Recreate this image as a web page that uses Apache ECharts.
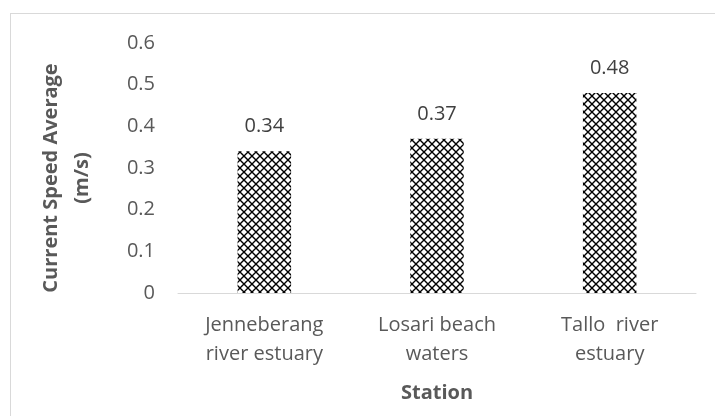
<!DOCTYPE html>
<html>
<head>
<meta charset="utf-8">
<script src="https://cdn.jsdelivr.net/npm/echarts@6/dist/echarts.min.js"></script>
<style>
html,body{margin:0;padding:0;background:#fff;}
#frame{position:absolute;left:10px;top:13px;width:710px;height:410px;border:1px solid #d9d9d9;box-sizing:border-box;}
#chart{position:absolute;left:0;top:0;width:715px;height:416px;}
</style>
</head>
<body>
<div id="frame"></div>
<div id="chart"></div>
<script>
const categories = ['Jenneberang\nriver estuary', 'Losari beach\nwaters', 'Tallo  river\nestuary'];
const speeds = [0.34, 0.37, 0.48];
const yTicks = ['0', '0.1', '0.2', '0.3', '0.4', '0.5', '0.6'];

function makePattern() {
  const c = document.createElement('canvas');
  c.width = 8; c.height = 8;
  const g = c.getContext('2d');
  g.fillStyle = '#fff';
  g.fillRect(0, 0, 8, 8);
  g.strokeStyle = '#000';
  g.lineWidth = 1.4;
  g.beginPath();
  g.moveTo(-1, -1); g.lineTo(9, 9);
  g.moveTo(9, -1); g.lineTo(-1, 9);
  g.stroke();
  return c;
}

const chart = echarts.init(document.getElementById('chart'));
const font = 'Open Sans';
chart.setOption({
  animation: false,
  grid: { left: 178, right: 19, top: 43, bottom: 123 },
  xAxis: {
    type: 'category',
    data: categories,
    name: 'Station',
    nameLocation: 'middle',
    nameGap: 90,
    nameTextStyle: { fontFamily: font, fontSize: 20, fontWeight: 'bold', color: '#595959' },
    axisLine: { lineStyle: { color: '#d9d9d9', width: 1 } },
    axisTick: { show: false },
    axisLabel: { fontFamily: font, fontSize: 20, color: '#595959', lineHeight: 29, margin: 18, interval: 0 }
  },
  yAxis: {
    type: 'value',
    min: 0, max: 0.6, interval: 0.1,
    name: 'Current Speed Average\n(m/s)',
    nameLocation: 'middle',
    nameRotate: 90,
    nameGap: 80,
    nameTextStyle: { fontFamily: font, fontSize: 20, fontWeight: 'bold', color: '#595959', lineHeight: 31, padding: [0, 20, 0, 0] },
    axisLine: { show: false },
    axisTick: { show: false },
    splitLine: { show: false },
    axisLabel: {
      fontFamily: font, fontSize: 20, color: '#595959', margin: 23,
      formatter: function (v) { return yTicks[Math.round(v * 10)]; }
    }
  },
  series: [{
    type: 'bar',
    data: speeds,
    barWidth: '31%',
    itemStyle: { color: { image: makePattern(), repeat: 'repeat' } },
    label: {
      show: true, position: 'top', distance: 15,
      fontFamily: font, fontSize: 20, color: '#404040',
      formatter: function (p) { return p.value.toFixed(2); }
    }
  }]
});
</script>
</body>
</html>
